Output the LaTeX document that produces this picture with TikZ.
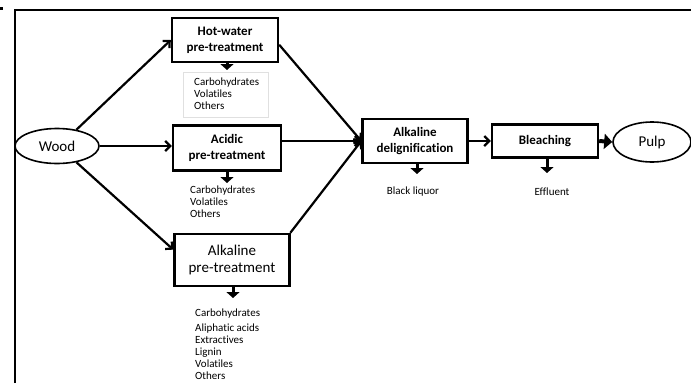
\documentclass[tikz,border=0pt]{standalone}
\usepackage{fontspec}
\setmainfont[Ligatures=NoCommon]{Carlito}
\usetikzlibrary{arrows.meta,shapes.geometric}

\begin{document}
\begin{tikzpicture}[x=1pt,y=-1pt,>={Straight Barb[length=5pt,width=10pt]},
  stage/.style={draw,line width=2.4pt,align=center,inner sep=0pt,font=\fontsize{13}{16}\selectfont\bfseries},
  ends/.style={draw,ellipse,line width=1.6pt,inner sep=0pt,font=\fontsize{15}{17}\selectfont},
  flow/.style={line width=2.2pt,->},
  waste/.style={line width=3pt,-{Triangle[length=6pt,width=13pt]}},
  yield/.style={align=left,anchor=north west,inner sep=0pt,font=\fontsize{11}{12}\selectfont}]
  \useasboundingbox (0,0) rectangle (691,383);
  % frame, cut off at right and bottom
  \draw[line width=2pt] (15,383) -- (15,10) -- (691,10);
  \fill (0,7) rectangle (3,10);
  % raw material and product
  \node[ends,minimum width=84pt,minimum height=35pt] (wood) at (57,146) {Wood};
  \node[ends,minimum width=78pt,minimum height=40pt] (pulp) at (652,142) {Pulp};
  % pre-treatments
  \node[stage,minimum width=106pt,minimum height=44pt] (hotwater) at (225,40) {Hot-water\\pre-treatment};
  \node[stage,minimum width=108pt,minimum height=45pt] (acidic) at (227,148) {Acidic\\pre-treatment};
  \node[stage,minimum width=115pt,minimum height=52pt,font=\fontsize{15}{17}\selectfont] (alkaline) at (232,260) {Alkaline\\pre-treatment};
  % pulping line
  \node[stage,minimum width=105pt,minimum height=44pt] (delig) at (415,141) {Alkaline\\delignification};
  \node[stage,minimum width=106pt,minimum height=33pt] (bleach) at (545,141) {Bleaching};
  % main flow
  \draw[flow] (wood.40) -- (hotwater.west);
  \draw[flow] (wood.east) -- (wood.east -| acidic.west);
  \draw[flow] (wood.-40) -- (alkaline.170);
  \draw[flow] (hotwater.-5) -- (delig.west);
  \draw[flow] (delig.west -| acidic.east) -- (delig.west);
  \draw[flow] (alkaline.25) -- (delig.west);
  \draw[flow] (delig.east) -- (bleach.west);
  \draw[line width=4pt,-{Triangle[length=8pt,width=15pt]}] (bleach.east) -- (pulp.west);
  % side streams
  \coordinate (hwdrop) at (227,70);
  \coordinate (acdrop) at (227,183);
  \coordinate (aldrop) at (233,298);
  \coordinate (dldrop) at (417,174);
  \coordinate (bldrop) at (547,173);
  \draw[waste] (hotwater.south -| hwdrop) -- (hwdrop);
  \draw[waste] (acidic.south -| acdrop) -- (acdrop);
  \draw[waste] (alkaline.south -| aldrop) -- (aldrop);
  \draw[waste] (delig.south -| dldrop) -- (dldrop);
  \draw[waste] (bleach.south -| bldrop) -- (bldrop);
  \node[draw=black!12,minimum width=85pt,minimum height=45pt,anchor=north west] (hwframe) at (183,72) {};
  \node[yield] (hwout) at (194,78) {Carbohydrates\\Volatiles\\Others};
  \node[yield] (acout) at (190,186) {Carbohydrates\\Volatiles\\Others};
  \node[yield] (alout) at (195,309) {Carbohydrates\\[3pt]Aliphatic acids\\Extractives\\Lignin\\Volatiles\\Others};
  \node[yield,anchor=center] (liquor) at (413,192) {Black liquor};
  \node[yield,anchor=center] (effluent) at (552,192) {Effluent};
\end{tikzpicture}
\end{document}
